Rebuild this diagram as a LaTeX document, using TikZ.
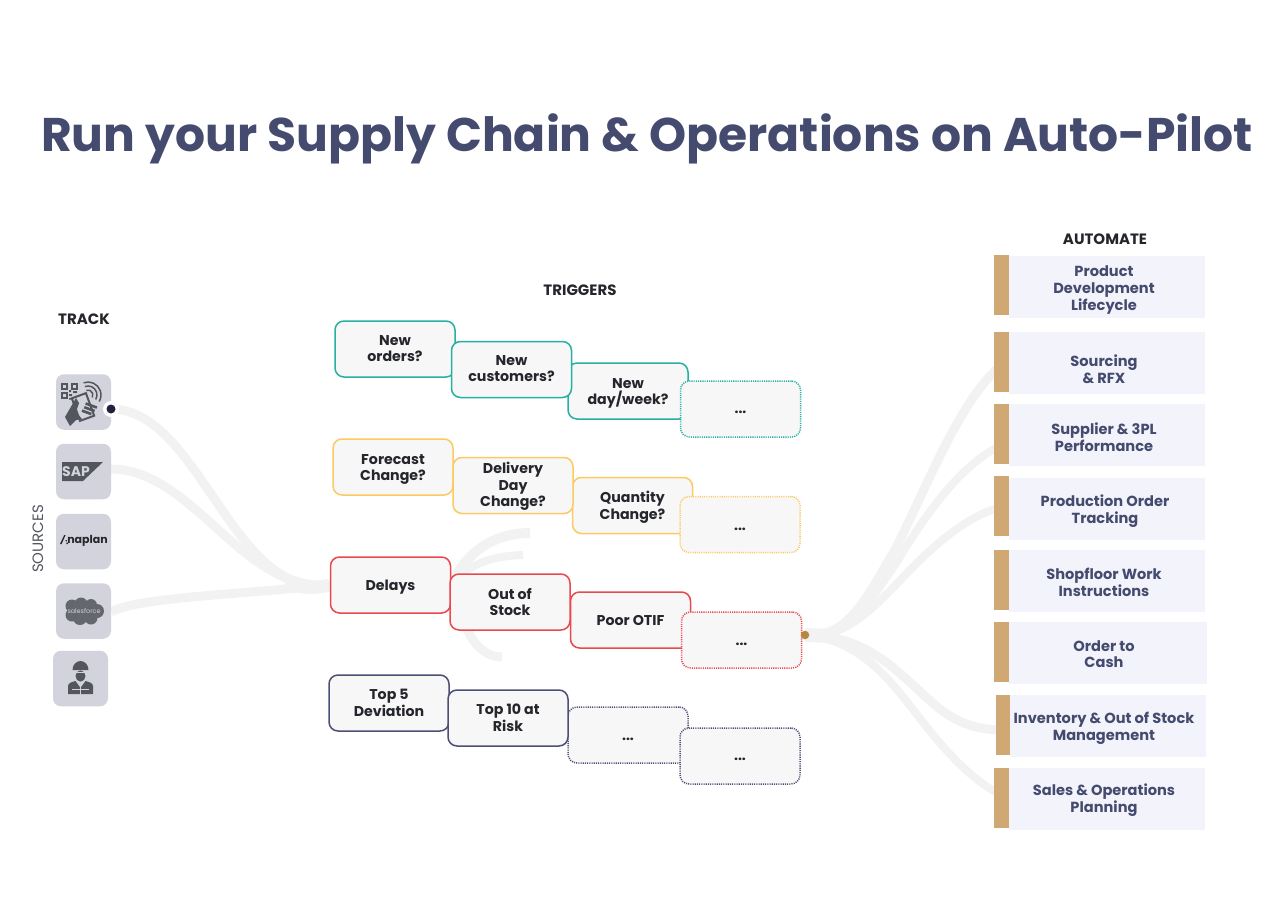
\documentclass[tikz,border=0pt]{standalone}
\usepackage{fontspec}
\usetikzlibrary{backgrounds}
\setmainfont{Poppins}
\definecolor{teal1}{HTML}{27B0A2}
\definecolor{yel1}{HTML}{FBCB62}
\definecolor{red1}{HTML}{E9484F}
\definecolor{navy1}{HTML}{4D4F75}
\definecolor{ink}{HTML}{24262B}
\definecolor{slate}{HTML}{454B6E}
\definecolor{boxbg}{HTML}{F7F7F8}
\definecolor{panel}{HTML}{F3F4FB}
\definecolor{tan1}{HTML}{CFA874}
\definecolor{hubc}{HTML}{B8863F}
\definecolor{swoosh}{HTML}{F2F2F2}
\definecolor{tile}{HTML}{D2D3DC}
\definecolor{logo}{HTML}{54565E}
\tikzset{
  tbox/.style={draw=#1,line width=1.5pt,fill=boxbg,rounded corners=9pt,minimum width=120pt,minimum height=56pt,inner sep=0pt},
  dbox/.style={tbox=#1,dash pattern=on 1.1pt off 1.1pt},
  lab/.style={inner sep=0pt,align=center,text=ink,font=\bfseries\fontsize{14.2}{16.7}\selectfont},
  plab/.style={inner sep=0pt,align=center,text=slate,font=\bfseries\fontsize{14.6}{16.7}\selectfont},
  dots/.style={font=\bfseries\fontsize{14}{16}\selectfont,text=ink,inner sep=0pt},
  panelbox/.style={fill=panel,minimum width=196pt,minimum height=62pt,inner sep=0pt},
  barbox/.style={fill=tan1,minimum width=15pt,minimum height=60pt,inner sep=0pt},
  tilebox/.style={fill=tile,rounded corners=8pt,minimum width=55pt,minimum height=55.5pt,inner sep=0pt},
  heading/.style={text=ink,inner sep=0pt,font=\bfseries\fontsize{15}{17}\selectfont},
  sw/.style={draw=swoosh,line width=#1,line cap=round},
  sw/.default=8pt
}
\begin{document}
\begin{tikzpicture}[x=1pt,y=-1pt]
\useasboundingbox (0,0) rectangle (1280,907);
\node[text=slate,inner sep=0pt,font=\bfseries\fontsize{47.2}{52}\selectfont] (title) at (647,138.5) {Run your Supply Chain \& Operations on Auto-Pilot};
\node[heading] (track) at (84,319) {TRACK};
\node[heading] (triggers) at (580,290) {TRIGGERS};
\node[heading] (automate) at (1105,239) {AUTOMATE};
\node[text=logo,inner sep=0pt,rotate=90,font=\fontsize{15}{17}\selectfont] (sources) at (38,539) {SOURCES};

% tiles
\node[tilebox] (t1) at (83.5,402) {};
\node[tilebox] (t2) at (83.5,471.5) {};
\node[tilebox] (t3) at (83.5,541.5) {};
\node[tilebox] (t4) at (83.5,611) {};
\node[tilebox] (t5) at (80.5,678.5) {};

% panels
\node[panelbox] (p1) at (1106.5,286.5) {};
\node[panelbox] (p2) at (1106.5,363) {};
\node[panelbox] (p3) at (1106.5,435) {};
\node[panelbox] (p4) at (1107,508.5) {};
\node[panelbox] (p5) at (1106.5,581) {};
\node[panelbox,minimum width=198pt] (p6) at (1108,653) {};
\node[panelbox] (p7) at (1108,726) {};
\node[panelbox] (p8) at (1106.5,799) {};
\node[plab] (q1) at (1104,290) {Product\\Development\\Lifecycle};
\node[plab] (q2) at (1104,369.5) {Sourcing\\\& RFX};
\node[plab] (q3) at (1104,437) {Supplier \& 3PL\\Performance};
\node[plab] (q4) at (1105,511) {Production Order\\Tracking};
\node[plab] (q5) at (1104,582.5) {Shopfloor Work\\Instructions};
\node[plab] (q6) at (1104,654) {Order to\\Cash};
\node[plab] (q7) at (1104,728) {Inventory \& Out of Stock\\Management};
\node[plab] (q8) at (1104,800) {Sales \& Operations\\Planning};

% bars
\node[barbox] at (1001.5,285) (b1) {};
\node[barbox] at (1001.5,361.5) (b2) {};
\node[barbox] at (1001.5,434) (b3) {};
\node[barbox] at (1001.5,506) (b4) {};
\node[barbox] at (1001.5,580) (b5) {};
\node[barbox] at (1001.5,652) (b6) {};
\node[barbox,minimum width=14pt] at (1003,724.5) (b7) {};
\node[barbox] at (1001.5,797.5) (b8) {};

% teal
\node[tbox=teal1] (a1) at (395,349) {};
\node[tbox=teal1] (a3) at (628,391) {};
\node[tbox=teal1] (a2) at (511.5,369.5) {};
\node[dbox=teal1] (a4) at (740.5,409) {};
\node[lab] (a1t) at (395,348.5) {New\\orders?};
\node[lab] (a2t) at (511.5,368.5) {New\\customers?};
\node[lab] (a3t) at (628,393.5) {New\\day/week?};
\node[dots] at (740.5,412) (a4t) {...};
% yellow
\node[tbox=yel1] (c1) at (393,467) {};
\node[tbox=yel1] (c3) at (632.5,505.5) {};
\node[tbox=yel1] (c2) at (513,485.5) {};
\node[dbox=yel1] (c4) at (740,524.5) {};
\node[lab] (c1t) at (393,469.5) {Forecast\\Change?};
\node[lab] (c2t) at (513,486.5) {Delivery\\Day\\Change?};
\node[lab] (c3t) at (632.5,507) {Quantity\\Change?};
\node[dots] at (740,529) (c4t) {...};
% red
\node[tbox=red1] (d1) at (390.5,585) {};
\node[tbox=red1] (d3) at (630.5,620) {};
\node[tbox=red1] (d2) at (510,602) {};
\node[dbox=red1] (d4) at (741.5,640) {};
\node[lab] (d1t) at (390.5,587) {Delays};
\node[lab] (d2t) at (510,602) {Out of\\Stock};
\node[lab] (d3t) at (630.5,620) {Poor OTIF};
\node[dots] at (741.5,644.5) (d4t) {...};
% navy
\node[tbox=navy1] (e1) at (389,703) {};
\node[dbox=navy1] (e3) at (628,735) {};
\node[tbox=navy1] (e2) at (508,718) {};
\node[dbox=navy1] (e4) at (740,756) {};
\node[lab] (e1t) at (389,703) {Top 5\\Deviation};
\node[lab] (e2t) at (508,718) {Top 10 at\\Risk};
\node[dots] at (628,739) (e3t) {...};
\node[dots] at (740,759.5) (e4t) {...};

% dots
\fill[white] (111,409) circle (8);
\node[circle,fill=ink!90!blue,minimum size=9pt,inner sep=0pt] (startdot) at (111,409) {};
\node[circle,fill=hubc,minimum size=8.5pt,inner sep=0pt] (hub) at (805,635) {};

% flows, behind every box
\begin{scope}[on background layer]
\coordinate (f1) at (530,533);
\coordinate (f2) at (523,555);
\coordinate (f3) at (502,657);
\draw[sw=9pt] (startdot.center) .. controls (170,409) and (205,495) .. (250,547) .. controls (275,575) and (295,587) .. (d1.west);
\draw[sw=9pt] (t2.east |- 0,469) .. controls (170,469) and (215,535) .. (262,565) .. controls (285,580) and (305,587) .. (d1.west);
\draw[sw=9pt,line cap=butt] (t4.east |- 0,612) .. controls (135,598) and (230,595) .. (d1.west);
\draw[sw=13pt,line cap=butt] (285,583) .. controls (300,588) and (315,589) .. (d1.west);
\draw[sw=10pt,line cap=butt] (d1.east) .. controls (468,548) and (498,533) .. (f1);
\draw[sw=8pt,line cap=butt] (d1.east) .. controls (470,562) and (495,556) .. (f2);
\draw[sw=9pt,line cap=butt] (d1.east) .. controls (462,625) and (475,657) .. (f3);
\draw[sw=14pt,line cap=butt] (hub.center) -- (835,636);
\draw[sw=9pt] (hub.center) .. controls (850,640) and (870,590) .. (895,550) .. controls (930,480) and (960,400) .. (b2.center |- 0,365);
\draw[sw=8pt] (hub.center) .. controls (850,640) and (870,600) .. (895,565) .. controls (925,515) and (960,465) .. (b3.center |- 0,445);
\draw[sw=8pt] (hub.center) .. controls (850,640) and (880,600) .. (915,565) .. controls (940,540) and (970,515) .. (b4.center |- 0,507);
\draw[sw=9pt] (hub.center) .. controls (870,635) and (900,675) .. (935,705) .. controls (955,722) and (975,730) .. (b7.center |- 0,730);
\draw[sw=8pt] (hub.center) .. controls (860,640) and (890,680) .. (915,712) .. controls (940,745) and (970,780) .. (b8.center |- 0,795);
\end{scope}

% QR / phone icon
\begin{scope}[logo]
\foreach \x/\y in {62/384,72/384,62/393}{\draw[line width=1.1pt] (\x,\y) rectangle ++(5,5);}
\fill (69,390) rectangle ++(2,2) (73,391) rectangle ++(4,2) (69,394) rectangle ++(3,2) (69,398) rectangle ++(5,1.6);
\foreach \r in {5,9,13}{\draw[line width=1.5pt] (88,395) ++(-110:\r) arc (-110:30:\r);}
\draw[line width=2pt,fill=tile,rotate around={20:(83,407)}] (75.5,395) rectangle (90.5,419);
\fill (65,417) -- (76,398) -- (79,403) -- (76,412) -- (82,419) -- (76,420) -- (70,426) -- cycle;
\fill[rotate around={-20:(90,409)}] (84,404) rectangle ++(12,2.6) (84,408) rectangle ++(11,2.6) (83,412) rectangle ++(10,2.6);
\end{scope}

% SAP
\fill[logo] (62,462) -- (103,462) -- (83,481) -- (62,481) -- cycle;
\node[text=tile,inner sep=0pt,font=\bfseries\fontsize{14}{14}\selectfont] (saptext) at (76,471.5) {SAP};

% Anaplan
\fill[ink] (60,544) -- (64.2,535) -- (65.6,535) -- (61.6,544) -- cycle;
\fill[ink] (65.5,540) rectangle ++(1.4,1.4) (66.4,542.6) rectangle ++(1.4,1.4);
\node[text=ink,inner sep=0pt,font=\bfseries\fontsize{11}{11}\selectfont] (anatext) at (87.5,540.5) {naplan};

% Salesforce
\fill[logo!90!white] (72,606) circle (6.5) (81,604) circle (6.5) (91,605) circle (6) (97,611) circle (7) (72,615) circle (6.5) (80,618) circle (7) (91,618) circle (6.5) (84,611) ellipse (14 and 9);
\node[text=tile,inner sep=0pt,font=\fontsize{6.4}{7}\selectfont] (sftext) at (84,611) {salesforce};

% Worker
\begin{scope}[logo]
\fill (72.5,670) arc (180:360:8 and 9) -- cycle;
\fill (80.5,676) ellipse (5 and 5.6);
\draw[tile,line width=1pt] (74.5,672) -- (86.5,672);
\fill (68,694) -- (68,686) .. controls (68,683) and (72,682) .. (75.5,681) -- (79.8,687) -- (79.8,694) -- cycle;
\fill (93,694) -- (93,686) .. controls (93,683) and (89,682) .. (85.5,681) -- (81.2,687) -- (81.2,694) -- cycle;
\fill[tile] (72,688.5) rectangle (89,689.5);
\end{scope}
\end{tikzpicture}
\end{document}
